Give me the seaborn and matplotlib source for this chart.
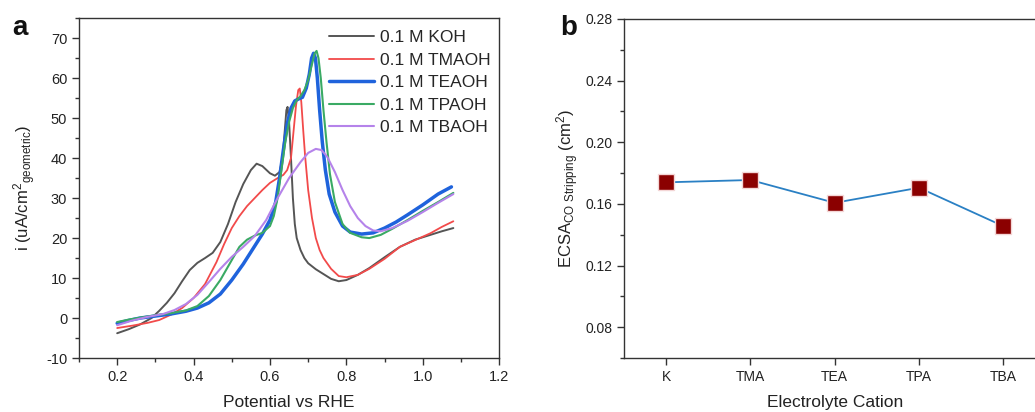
import numpy as np
import pandas as pd
import matplotlib
matplotlib.use("Agg")
import matplotlib.pyplot as plt
import seaborn as sns
from matplotlib.ticker import MultipleLocator

sns.set_theme(style="ticks")
plt.rcParams['font.family'] = ['Liberation Sans', 'DejaVu Sans']
plt.rcParams['mathtext.default'] = 'regular'
plt.rcParams['axes.unicode_minus'] = False

# ---------------- data (panel a) ----------------
koh_v = [0.20, 0.23, 0.26, 0.29, 0.31, 0.33, 0.35, 0.37, 0.39, 0.41, 0.43, 0.45, 0.47, 0.49,
         0.51, 0.53, 0.55, 0.565, 0.58, 0.60, 0.613, 0.625, 0.633, 0.638, 0.643, 0.646, 0.65,
         0.655, 0.66, 0.665, 0.67, 0.68, 0.69, 0.70, 0.72, 0.74, 0.76, 0.78, 0.80, 0.83,
         0.86, 0.90, 0.94, 0.98, 1.02, 1.05, 1.08]
koh_i = [-3.8, -2.8, -1.6, 0.0, 1.8, 3.8, 6.2, 9.2, 12.0, 13.8, 15.0, 16.3, 19.0, 23.5,
         29.0, 33.5, 37.0, 38.6, 38.0, 36.2, 35.6, 36.5, 40.0, 46.0, 52.0, 52.8, 49.0,
         40.0, 30.0, 23.5, 20.0, 17.0, 15.0, 13.7, 12.2, 11.0, 9.8, 9.2, 9.5, 10.8,
         12.5, 15.2, 17.8, 19.6, 20.8, 21.7, 22.5]

tma_v = [0.20, 0.24, 0.28, 0.31, 0.34, 0.37, 0.40, 0.43, 0.46, 0.48, 0.50, 0.52, 0.54, 0.56,
         0.58, 0.60, 0.62, 0.635, 0.645, 0.655, 0.662, 0.668, 0.674, 0.678, 0.682, 0.687,
         0.692, 0.70, 0.71, 0.72, 0.73, 0.74, 0.76, 0.78, 0.80, 0.83, 0.86, 0.90, 0.94,
         0.98, 1.02, 1.05, 1.08]
tma_i = [-2.5, -1.9, -1.2, -0.5, 0.8, 2.5, 5.0, 8.5, 14.0, 18.5, 22.5, 25.5, 28.0, 30.0,
         32.0, 33.8, 35.0, 35.8, 37.0, 40.0, 47.0, 53.0, 57.0, 57.4, 54.0, 47.0,
         40.5, 32.0, 25.0, 20.0, 17.0, 15.0, 12.3, 10.5, 10.2, 10.8, 12.3, 14.8, 17.8,
         19.5, 21.2, 22.8, 24.2]

tea_v = [0.20, 0.23, 0.26, 0.30, 0.34, 0.38, 0.41, 0.44, 0.47, 0.50, 0.53, 0.56, 0.58, 0.60,
         0.615, 0.625, 0.635, 0.645, 0.655, 0.665, 0.675, 0.685, 0.695, 0.703, 0.709, 0.714,
         0.719, 0.724, 0.73, 0.737, 0.745, 0.755, 0.77, 0.79, 0.81, 0.84, 0.87, 0.90, 0.93,
         0.96, 1.00, 1.04, 1.075]
tea_i = [-1.3, -0.6, 0.0, 0.5, 1.0, 1.7, 2.5, 3.8, 6.0, 9.5, 13.5, 18.0, 21.0, 24.5,
         29.0, 35.0, 42.0, 48.5, 52.5, 54.3, 54.8, 55.2, 57.5, 61.0, 65.0, 66.2,
         65.0, 60.0, 52.0, 44.0, 37.0, 31.0, 26.5, 23.0, 21.5, 21.0, 21.3, 22.5, 24.0,
         25.8, 28.3, 31.0, 32.8]

tpa_v = [0.20, 0.23, 0.26, 0.30, 0.34, 0.38, 0.41, 0.44, 0.47, 0.50, 0.52, 0.54, 0.56, 0.58,
         0.60, 0.61, 0.62, 0.63, 0.64, 0.65, 0.66, 0.67, 0.68, 0.69, 0.70, 0.71, 0.717,
         0.722, 0.727, 0.733, 0.74, 0.748, 0.757, 0.77, 0.79, 0.81, 0.84, 0.86, 0.89,
         0.92, 0.96, 1.00, 1.04, 1.08]
tpa_i = [-1.0, -0.4, 0.1, 0.7, 1.2, 1.9, 3.0, 5.5, 9.5, 14.5, 17.8, 19.6, 20.6, 21.3,
         23.0, 25.5, 30.0, 37.0, 44.0, 49.0, 52.5, 54.5, 55.5, 57.0, 59.5, 63.5, 66.2,
         66.8, 65.0, 60.0, 52.0, 44.0, 36.0, 29.0, 23.5, 21.3, 20.2, 20.0, 20.8,
         22.3, 24.5, 26.8, 29.0, 31.3]

tba_v = [0.20, 0.24, 0.28, 0.32, 0.35, 0.38, 0.41, 0.44, 0.47, 0.50, 0.53, 0.56, 0.59, 0.62,
         0.65, 0.68, 0.70, 0.72, 0.735, 0.75, 0.77, 0.79, 0.81, 0.83, 0.85, 0.87, 0.89,
         0.92, 0.96, 1.00, 1.04, 1.08]
tba_i = [-1.8, -0.6, 0.3, 1.0, 2.0, 3.5, 5.8, 9.0, 12.3, 15.3, 17.8, 20.5, 24.5, 30.0,
         35.0, 39.0, 41.3, 42.3, 42.0, 40.3, 36.5, 32.0, 28.0, 25.0, 23.0, 21.9, 21.7,
         22.5, 24.3, 26.5, 28.8, 31.0]

series_labels = ["0.1 M KOH", "0.1 M TMAOH", "0.1 M TEAOH", "0.1 M TPAOH", "0.1 M TBAOH"]

# ---------------- data (panel b) ----------------
cations = ["K", "TMA", "TEA", "TPA", "TBA"]
ecsa = [0.174, 0.1755, 0.1607, 0.1705, 0.1456]

# ---------------- figure ----------------
fig = plt.figure(figsize=(10.35, 4.12), dpi=100)
axa = fig.add_axes([0.0763, 0.131, 0.406, 0.825])
axb = fig.add_axes([0.603, 0.131, 0.407, 0.823])

colors = ["#555555", "#f24a4a", "#1f63dc", "#3aaa64", "#b583ea"]
widths = [1.4, 1.3, 2.5, 1.5, 1.5]
data = [(koh_v, koh_i), (tma_v, tma_i), (tea_v, tea_i), (tpa_v, tpa_i), (tba_v, tba_i)]

for (v, i), lab, c, w in zip(data, series_labels, colors, widths):
    df = pd.DataFrame({"Potential": v, "Current": i})
    sns.lineplot(data=df, x="Potential", y="Current", ax=axa, color=c, linewidth=w,
                 label=lab, sort=False, estimator=None)
for ln in axa.get_lines():
    ln.set_solid_joinstyle("round")

axa.set_xlim(0.1, 1.2)
axa.set_ylim(-10, 75)
axa.xaxis.set_minor_locator(MultipleLocator(0.1))
axa.yaxis.set_minor_locator(MultipleLocator(5))
axa.set_xticks([0.2, 0.4, 0.6, 0.8, 1.0, 1.2])
axa.set_xticklabels(["0.2", "0.4", "0.6", "0.8", "1.0", "1.2"])
axa.set_yticks(list(range(-10, 71, 10)))
axa.set_xlabel("Potential vs RHE", fontsize=12.5, color="#222222", labelpad=8)
axa.set_ylabel("i (uA/cm$^2$$_{geometric}$)", fontsize=12, color="#222222", labelpad=6)
leg = axa.legend(loc="upper right", frameon=False, fontsize=12.5, handlelength=2.6,
                 handletextpad=0.3, labelspacing=0.42, borderaxespad=0.0,
                 bbox_to_anchor=(0.995, 0.985))

# panel b
dfb = pd.DataFrame({"Cation": cations, "ECSA": ecsa})
sns.lineplot(data=dfb, x="Cation", y="ECSA", ax=axb, color="#2a80c4", linewidth=1.3,
             marker="s", markersize=11, markerfacecolor="#8b0000",
             markeredgecolor="#f4d6d6", markeredgewidth=1.0, sort=False)
axb.set_xlim(-0.5, 4.5)
axb.set_ylim(0.06, 0.28)
axb.set_yticks([0.08, 0.12, 0.16, 0.20, 0.24, 0.28])
axb.set_yticklabels(["0.08", "0.12", "0.16", "0.20", "0.24", "0.28"])
axb.yaxis.set_minor_locator(MultipleLocator(0.02))
axb.set_xlabel("Electrolyte Cation", fontsize=12.5, color="#222222", labelpad=8)
axb.set_ylabel("ECSA$_{CO\\ Stripping}$ (cm$^2$)", fontsize=12, color="#222222", labelpad=3)

for ax, ls in ((axa, 10.5), (axb, 10)):
    for s in ax.spines.values():
        s.set_linewidth(1.0)
        s.set_color("#333333")
        s.set_visible(True)
    ax.tick_params(axis="both", which="major", direction="out", length=5, width=1.0,
                   labelsize=ls, colors="#333333", labelcolor="#222222")
    ax.tick_params(axis="both", which="minor", direction="out", length=3, width=1.0,
                   colors="#333333")
    ax.tick_params(top=False, right=False, which="both")

axb.tick_params(axis="x", which="minor", bottom=False)

fig.text(0.012, 0.915, "a", fontsize=20, fontweight="bold", color="#111111")
fig.text(0.541, 0.915, "b", fontsize=20, fontweight="bold", color="#111111")

fig.savefig("out.png", dpi=100)
